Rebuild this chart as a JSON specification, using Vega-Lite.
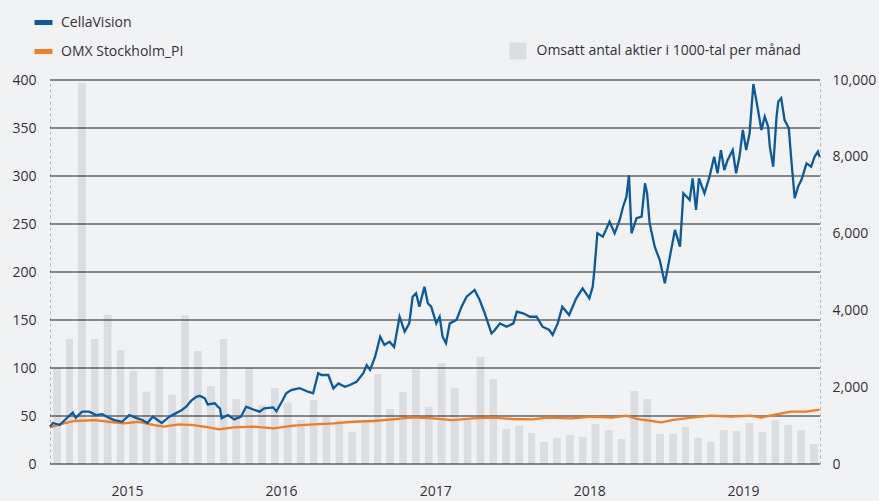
{
  "$schema": "https://vega.github.io/schema/vega-lite/v6.json",
  "width": 770,
  "height": 384,
  "autosize": "none",
  "padding": {"left": 50, "top": 80, "right": 59, "bottom": 37},
  "background": "#f1f2f4",
  "config": {
    "view": {"stroke": null},
    "font": "Open Sans",
    "axis": {"labelFont": "Open Sans", "labelColor": "#333333", "labelFontSize": 14},
    "legend": {"labelFont": "Open Sans", "labelColor": "#333333", "labelFontSize": 14, "labelLimit": 400}
  },
  "datasets": {
    "vol": [
      {"month": "2015-01-15", "v": 2500}, {"month": "2015-02-15", "v": 3255}, {"month": "2015-03-15", "v": 9930},
      {"month": "2015-04-15", "v": 3255}, {"month": "2015-05-15", "v": 3880}, {"month": "2015-06-15", "v": 2970},
      {"month": "2015-07-15", "v": 2420}, {"month": "2015-08-15", "v": 1885}, {"month": "2015-09-15", "v": 2535},
      {"month": "2015-10-15", "v": 1805}, {"month": "2015-11-15", "v": 3880}, {"month": "2015-12-15", "v": 2940},
      {"month": "2016-01-15", "v": 2030}, {"month": "2016-02-15", "v": 3255}, {"month": "2016-03-15", "v": 1690},
      {"month": "2016-04-15", "v": 2500}, {"month": "2016-05-15", "v": 1535}, {"month": "2016-06-15", "v": 1980},
      {"month": "2016-07-15", "v": 1600}, {"month": "2016-08-15", "v": 1145}, {"month": "2016-09-15", "v": 1667},
      {"month": "2016-10-15", "v": 1233}, {"month": "2016-11-15", "v": 1145}, {"month": "2016-12-15", "v": 842},
      {"month": "2017-01-15", "v": 1077}, {"month": "2017-02-15", "v": 2344}, {"month": "2017-03-15", "v": 1432},
      {"month": "2017-04-15", "v": 1880}, {"month": "2017-05-15", "v": 2465}, {"month": "2017-06-15", "v": 1490},
      {"month": "2017-07-15", "v": 2630}, {"month": "2017-08-15", "v": 1985}, {"month": "2017-09-15", "v": 1146},
      {"month": "2017-10-15", "v": 2795}, {"month": "2017-11-15", "v": 2214}, {"month": "2017-12-15", "v": 911},
      {"month": "2018-01-15", "v": 990}, {"month": "2018-02-15", "v": 807}, {"month": "2018-03-15", "v": 573},
      {"month": "2018-04-15", "v": 680}, {"month": "2018-05-15", "v": 755}, {"month": "2018-06-15", "v": 712},
      {"month": "2018-07-15", "v": 1042}, {"month": "2018-08-15", "v": 885}, {"month": "2018-09-15", "v": 651},
      {"month": "2018-10-15", "v": 1901}, {"month": "2018-11-15", "v": 1693}, {"month": "2018-12-15", "v": 781},
      {"month": "2019-01-15", "v": 781}, {"month": "2019-02-15", "v": 964}, {"month": "2019-03-15", "v": 677},
      {"month": "2019-04-15", "v": 573}, {"month": "2019-05-15", "v": 885}, {"month": "2019-06-15", "v": 859},
      {"month": "2019-07-15", "v": 1068}, {"month": "2019-08-15", "v": 833}, {"month": "2019-09-15", "v": 1146},
      {"month": "2019-10-15", "v": 1016}, {"month": "2019-11-15", "v": 885}, {"month": "2019-12-15", "v": 521}
    ],
    "grid": [{"g": 0}, {"g": 50}, {"g": 100}, {"g": 150}, {"g": 200}, {"g": 250}, {"g": 300}, {"g": 350}, {"g": 400}],
    "cv": [
      {"date": "2015-01-01", "value": 39}, {"date": "2015-01-08", "value": 42.7}, {"date": "2015-01-24", "value": 40.6},
      {"date": "2015-02-10", "value": 47.9}, {"date": "2015-02-24", "value": 53.5}, {"date": "2015-03-03", "value": 48},
      {"date": "2015-03-18", "value": 54.5}, {"date": "2015-04-04", "value": 54.5}, {"date": "2015-04-20", "value": 51},
      {"date": "2015-05-05", "value": 52}, {"date": "2015-05-21", "value": 48}, {"date": "2015-06-03", "value": 45.8},
      {"date": "2015-06-21", "value": 44}, {"date": "2015-07-08", "value": 51}, {"date": "2015-07-24", "value": 48},
      {"date": "2015-08-08", "value": 45.8}, {"date": "2015-08-20", "value": 42.7}, {"date": "2015-09-02", "value": 49.3},
      {"date": "2015-09-13", "value": 45.8}, {"date": "2015-09-23", "value": 42.7}, {"date": "2015-10-11", "value": 49.3},
      {"date": "2015-10-27", "value": 53}, {"date": "2015-11-09", "value": 56}, {"date": "2015-11-20", "value": 59.7},
      {"date": "2015-12-02", "value": 66}, {"date": "2015-12-14", "value": 70}, {"date": "2015-12-22", "value": 71},
      {"date": "2016-01-03", "value": 68.4}, {"date": "2016-01-10", "value": 62}, {"date": "2016-01-27", "value": 63.2},
      {"date": "2016-02-03", "value": 59.7}, {"date": "2016-02-08", "value": 58}, {"date": "2016-02-12", "value": 47.6},
      {"date": "2016-02-27", "value": 51}, {"date": "2016-03-13", "value": 46.5}, {"date": "2016-03-29", "value": 49.3},
      {"date": "2016-04-10", "value": 59.7}, {"date": "2016-04-30", "value": 56.3}, {"date": "2016-05-12", "value": 54.5},
      {"date": "2016-05-23", "value": 58}, {"date": "2016-06-13", "value": 59}, {"date": "2016-06-21", "value": 55},
      {"date": "2016-07-06", "value": 66.7}, {"date": "2016-07-14", "value": 73.6}, {"date": "2016-07-26", "value": 77},
      {"date": "2016-08-15", "value": 79}, {"date": "2016-09-04", "value": 75.3}, {"date": "2016-09-16", "value": 73.6},
      {"date": "2016-09-28", "value": 94.5}, {"date": "2016-10-06", "value": 92.7}, {"date": "2016-10-22", "value": 92.7},
      {"date": "2016-11-03", "value": 78.8}, {"date": "2016-11-15", "value": 84}, {"date": "2016-11-30", "value": 80.5},
      {"date": "2016-12-12", "value": 82.3}, {"date": "2016-12-28", "value": 85.7}, {"date": "2017-01-13", "value": 94.5},
      {"date": "2017-01-21", "value": 103}, {"date": "2017-01-29", "value": 98}, {"date": "2017-02-10", "value": 111.8},
      {"date": "2017-02-22", "value": 132.6}, {"date": "2017-03-04", "value": 124}, {"date": "2017-03-16", "value": 127.4},
      {"date": "2017-03-27", "value": 122}, {"date": "2017-04-09", "value": 153.4}, {"date": "2017-04-21", "value": 137.8},
      {"date": "2017-05-02", "value": 146.5}, {"date": "2017-05-10", "value": 174.3}, {"date": "2017-05-18", "value": 177.8},
      {"date": "2017-05-26", "value": 163.9}, {"date": "2017-06-07", "value": 184.7}, {"date": "2017-06-15", "value": 167.4},
      {"date": "2017-06-23", "value": 163.9}, {"date": "2017-07-05", "value": 146.5}, {"date": "2017-07-13", "value": 153.4},
      {"date": "2017-07-20", "value": 132.6}, {"date": "2017-07-28", "value": 125.7}, {"date": "2017-08-06", "value": 146.5},
      {"date": "2017-08-22", "value": 150}, {"date": "2017-09-03", "value": 163.9}, {"date": "2017-09-15", "value": 174.3},
      {"date": "2017-10-04", "value": 181.3}, {"date": "2017-10-16", "value": 170.8}, {"date": "2017-10-28", "value": 157},
      {"date": "2017-11-13", "value": 136}, {"date": "2017-11-21", "value": 139.6}, {"date": "2017-12-03", "value": 146.5},
      {"date": "2017-12-19", "value": 143}, {"date": "2018-01-04", "value": 146.5}, {"date": "2018-01-12", "value": 158.7},
      {"date": "2018-01-27", "value": 157}, {"date": "2018-02-12", "value": 153.4}, {"date": "2018-02-28", "value": 153.4},
      {"date": "2018-03-14", "value": 143}, {"date": "2018-03-30", "value": 139.6}, {"date": "2018-04-07", "value": 134.4},
      {"date": "2018-04-19", "value": 146.5}, {"date": "2018-04-30", "value": 163.9}, {"date": "2018-05-16", "value": 155.2},
      {"date": "2018-06-02", "value": 172.6}, {"date": "2018-06-17", "value": 183}, {"date": "2018-07-03", "value": 172.6},
      {"date": "2018-07-11", "value": 184.7}, {"date": "2018-07-15", "value": 202}, {"date": "2018-07-22", "value": 240.3},
      {"date": "2018-08-04", "value": 236.8}, {"date": "2018-08-20", "value": 252.4}, {"date": "2018-09-01", "value": 240.3},
      {"date": "2018-09-13", "value": 254.2}, {"date": "2018-09-21", "value": 268}, {"date": "2018-09-29", "value": 278.5},
      {"date": "2018-10-05", "value": 301}, {"date": "2018-10-11", "value": 240.3}, {"date": "2018-10-23", "value": 256},
      {"date": "2018-11-04", "value": 257.6}, {"date": "2018-11-12", "value": 292.4}, {"date": "2018-11-17", "value": 282},
      {"date": "2018-11-23", "value": 250.7}, {"date": "2018-12-05", "value": 226.4}, {"date": "2018-12-17", "value": 212.5},
      {"date": "2018-12-29", "value": 188.2}, {"date": "2019-01-10", "value": 216}, {"date": "2019-01-22", "value": 243.8},
      {"date": "2019-02-03", "value": 226.4}, {"date": "2019-02-11", "value": 282}, {"date": "2019-02-26", "value": 275},
      {"date": "2019-03-05", "value": 297.6}, {"date": "2019-03-13", "value": 264.6}, {"date": "2019-03-20", "value": 297.6},
      {"date": "2019-04-02", "value": 282}, {"date": "2019-04-14", "value": 299.3}, {"date": "2019-04-25", "value": 320},
      {"date": "2019-05-03", "value": 302.8}, {"date": "2019-05-11", "value": 327}, {"date": "2019-05-19", "value": 306.2},
      {"date": "2019-05-27", "value": 316.7}, {"date": "2019-06-08", "value": 327}, {"date": "2019-06-16", "value": 302.8},
      {"date": "2019-06-24", "value": 320}, {"date": "2019-07-02", "value": 347.9}, {"date": "2019-07-10", "value": 327},
      {"date": "2019-07-18", "value": 344.4}, {"date": "2019-07-27", "value": 395.8}, {"date": "2019-08-07", "value": 368.8},
      {"date": "2019-08-15", "value": 347.9}, {"date": "2019-08-23", "value": 361.8}, {"date": "2019-08-31", "value": 351.4},
      {"date": "2019-09-04", "value": 330.5}, {"date": "2019-09-12", "value": 309.7}, {"date": "2019-09-20", "value": 361.8},
      {"date": "2019-09-24", "value": 377.4}, {"date": "2019-10-01", "value": 381}, {"date": "2019-10-09", "value": 358.3},
      {"date": "2019-10-19", "value": 349.7}, {"date": "2019-10-25", "value": 316.7}, {"date": "2019-11-02", "value": 276.8},
      {"date": "2019-11-10", "value": 289}, {"date": "2019-11-18", "value": 296}, {"date": "2019-11-30", "value": 313.2},
      {"date": "2019-12-11", "value": 309.7}, {"date": "2019-12-19", "value": 320}, {"date": "2019-12-27", "value": 325.3},
      {"date": "2019-12-31", "value": 320}
    ],
    "omx": [
      {"date": "2015-01-01", "value": 38.2}, {"date": "2015-01-24", "value": 41.3}, {"date": "2015-02-28", "value": 44.8},
      {"date": "2015-04-16", "value": 45.8}, {"date": "2015-05-21", "value": 44}, {"date": "2015-06-25", "value": 42.4},
      {"date": "2015-07-30", "value": 44}, {"date": "2015-09-05", "value": 40.6}, {"date": "2015-09-28", "value": 38.9},
      {"date": "2015-11-03", "value": 41.3}, {"date": "2015-12-08", "value": 40.6}, {"date": "2016-01-12", "value": 38.2},
      {"date": "2016-02-06", "value": 36.1}, {"date": "2016-03-11", "value": 38.2}, {"date": "2016-04-28", "value": 38.9},
      {"date": "2016-06-14", "value": 37.2}, {"date": "2016-07-31", "value": 39.9}, {"date": "2016-09-17", "value": 41.3},
      {"date": "2016-11-04", "value": 42.4}, {"date": "2016-12-20", "value": 44}, {"date": "2017-02-07", "value": 44.8},
      {"date": "2017-03-23", "value": 46.5}, {"date": "2017-05-09", "value": 48.6}, {"date": "2017-06-26", "value": 47.6},
      {"date": "2017-08-13", "value": 45.8}, {"date": "2017-09-29", "value": 47.6}, {"date": "2017-11-16", "value": 48.3},
      {"date": "2018-01-02", "value": 46.9}, {"date": "2018-02-19", "value": 46.5}, {"date": "2018-03-24", "value": 48.3},
      {"date": "2018-05-22", "value": 47.6}, {"date": "2018-07-09", "value": 49.3}, {"date": "2018-08-25", "value": 48.3},
      {"date": "2018-09-30", "value": 50.3}, {"date": "2018-10-23", "value": 46.9}, {"date": "2018-12-21", "value": 43.4},
      {"date": "2019-01-15", "value": 45.8}, {"date": "2019-03-01", "value": 48.3}, {"date": "2019-04-18", "value": 50.3},
      {"date": "2019-06-04", "value": 49.3}, {"date": "2019-07-21", "value": 50.3}, {"date": "2019-08-14", "value": 48.3},
      {"date": "2019-09-19", "value": 51.8}, {"date": "2019-10-24", "value": 54.5}, {"date": "2019-11-29", "value": 54.5},
      {"date": "2019-12-31", "value": 56.6}
    ]
  },
  "resolve": {"scale": {"y": "independent"}, "axis": {"y": "independent"}},
  "layer": [
    {
      "data": {"name": "vol"},
      "mark": {"type": "bar", "width": {"band": 0.68}},
      "encoding": {
        "x": {
          "field": "month", "timeUnit": "yearmonth", "type": "temporal",
          "scale": {"domain": [{"year": 2015, "month": 1, "date": 1}, {"year": 2020, "month": 1, "date": 1}]},
          "axis": {
            "orient": "bottom", "tickCount": {"interval": "year", "step": 1},
            "labelExpr": "year(datum.value) >= 2020 ? '' : timeFormat(datum.value, '%Y')",
            "labelOffset": 77, "labelAlign": "center", "labelFlush": false, "labelOverlap": false,
            "ticks": false, "grid": false, "title": null, "domain": false, "labelPadding": 20
          }
        },
        "y": {
          "field": "v", "type": "quantitative",
          "scale": {"domain": [0, 10000], "nice": false},
          "axis": {
            "orient": "right", "values": [0, 2000, 4000, 6000, 8000, 10000],
            "labelExpr": "format(datum.value, ',')",
            "ticks": false, "grid": false, "title": null,
            "domainColor": "#b5b5b5", "domainDash": [3, 3], "domainWidth": 1, "labelPadding": 12
          }
        },
        "fill": {
          "datum": "Omsatt antal aktier i 1000-tal per månad",
          "scale": {"range": ["#dcdde0"]},
          "legend": {
            "orient": "none", "legendX": 459.5, "legendY": -37.5, "title": null, "padding": 0,
            "symbolType": "square", "symbolSize": 289, "symbolStrokeWidth": 0, "labelOffset": 10
          }
        }
      }
    },
    {
      "data": {"name": "grid"},
      "mark": {"type": "rule", "color": "#1f1f1f", "strokeWidth": 1.2},
      "encoding": {
        "y": {
          "field": "g", "type": "quantitative",
          "scale": {"domain": [0, 400], "nice": false},
          "axis": {
            "orient": "left", "values": [0, 50, 100, 150, 200, 250, 300, 350, 400],
            "ticks": false, "grid": false, "title": null,
            "domainColor": "#b5b5b5", "domainDash": [3, 3], "domainWidth": 1, "labelPadding": 14
          }
        },
        "strokeWidth": {"condition": {"test": "datum.g == 0", "value": 3}, "value": 1.2}
      }
    },
    {
      "data": {"name": "omx"},
      "mark": {"type": "line", "strokeWidth": 2.3},
      "encoding": {
        "x": {"field": "date", "type": "temporal",
              "scale": {"domain": [{"year": 2015, "month": 1, "date": 1}, {"year": 2020, "month": 1, "date": 1}]}},
        "y": {"field": "value", "type": "quantitative", "axis": null, "scale": {"domain": [0, 400], "nice": false}},
        "stroke": {
          "datum": "OMX Stockholm_PI",
          "scale": {"domain": ["CellaVision", "OMX Stockholm_PI"], "range": ["#0b5a9c", "#f47c20"]},
          "legend": {
            "orient": "none", "legendX": -18, "legendY": -69, "title": null, "padding": 0,
            "symbolType": "M-1,0H1", "symbolSize": 324, "symbolStrokeWidth": 5,
            "labelOffset": 6, "rowPadding": 7
          }
        }
      }
    },
    {
      "data": {"name": "cv"},
      "mark": {"type": "line", "strokeWidth": 2.3},
      "encoding": {
        "x": {"field": "date", "type": "temporal",
              "scale": {"domain": [{"year": 2015, "month": 1, "date": 1}, {"year": 2020, "month": 1, "date": 1}]}},
        "y": {"field": "value", "type": "quantitative", "axis": null, "scale": {"domain": [0, 400], "nice": false}},
        "stroke": {"datum": "CellaVision"}
      }
    }
  ]
}
